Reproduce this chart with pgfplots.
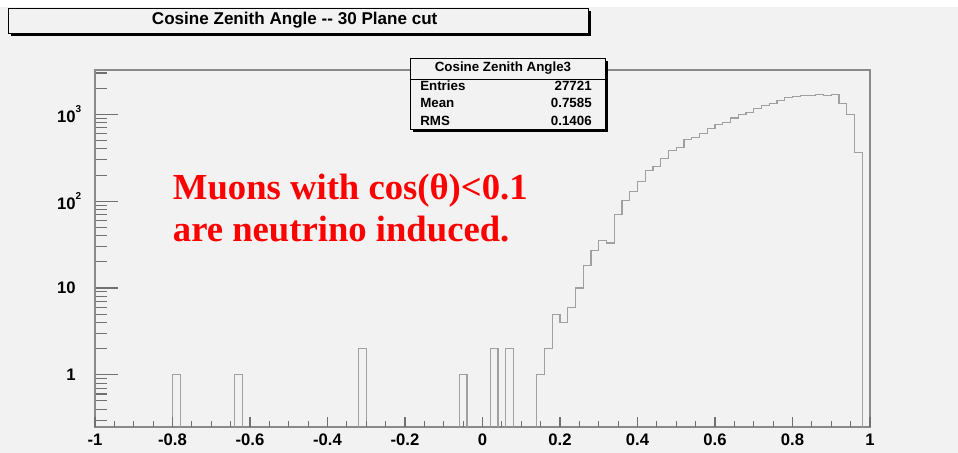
\documentclass[border=0pt]{standalone}
\usepackage{pgfplots}
\pgfplotsset{compat=1.18}
\usepackage{pgfplotstable}
\usepackage{fontspec}
\setmainfont{Liberation Sans}
\newfontfamily\serifrm{Liberation Serif}
\definecolor{bg}{HTML}{F2F2F2}
\definecolor{histc}{HTML}{A0A0A0}
\definecolor{framec}{HTML}{8A8A8A}
\definecolor{tickc}{HTML}{707070}

% left bin edge and count (bins of 0.02); runs of empty bins shown at 0.01 (below the axis)
\pgfplotstableread{
x y
-1.00 0.01
-0.80 1
-0.78 0.01
-0.64 1
-0.62 0.01
-0.32 2
-0.30 0.01
-0.06 1
-0.04 0.01
0.02 2
0.04 0.01
0.06 2
0.08 0.01
0.14 1
0.16 2
0.18 5
0.20 4
0.22 6
0.24 10
0.26 18
0.28 27
0.30 35
0.32 33
0.34 71
0.36 102
0.38 130
0.40 170
0.42 227
0.44 252
0.46 314
0.48 385
0.50 414
0.52 515
0.54 548
0.56 610
0.58 685
0.60 768
0.62 815
0.64 910
0.66 990
0.68 1060
0.70 1170
0.72 1260
0.74 1320
0.76 1450
0.78 1570
0.80 1610
0.82 1640
0.84 1670
0.86 1700
0.88 1670
0.90 1710
0.92 1320
0.94 1010
0.96 365
0.98 0.01
1.00 0.01
}\histdata

\newcommand{\expo}[1]{\rlap{\raisebox{7.5pt}{\fontsize{7.5}{7.5}\selectfont\bfseries #1}}}

\begin{document}
\begin{tikzpicture}
\useasboundingbox (0,0) rectangle (718.5pt,339.75pt);
\fill[bg] (0,0) rectangle (718.5pt,339.75pt);
\fill[white] (0,334.5pt) rectangle (718.5pt,339.75pt);

\begin{axis}[
  at={(71.25pt,19.5pt)}, anchor=south west,
  scale only axis, width=581.25pt, height=267.75pt,
  xmin=-1, xmax=1, ymode=log, ymin=0.25, ymax=3250,
  axis line style={draw=framec, line width=1.5pt},
  xtick=\empty,
  ytick={1,10,100,1000},
  yticklabels={{\bfseries 1},{\bfseries 10},{\bfseries 10\expo{2}},{\bfseries 10\expo{3}}},
  minor ytick={0.3,0.4,0.5,0.6,0.7,0.8,0.9,2,3,4,5,6,7,8,9,20,30,40,50,60,70,80,90,200,300,400,500,600,700,800,900,2000,3000},
  ytick pos=left, tick align=inside,
  major tick length=17.25pt, minor tick length=9pt,
  every tick/.style={tickc, line width=0.8pt},
  yticklabel style={anchor=east, inner sep=0pt, xshift=-14.25pt, font=\fontsize{12.5}{12.5}\selectfont\bfseries},
]
\addplot[const plot mark left, histc, line width=0.8pt] table[x=x,y=y] {\histdata};
\end{axis}

\begin{axis}[
  at={(71.25pt,19.5pt)}, anchor=south west,
  scale only axis, width=581.25pt, height=267.75pt,
  xmin=-1, xmax=1, ymin=0, ymax=1,
  axis line style={draw=none},
  ytick=\empty,
  xtick={-1,-0.8,-0.6,-0.4,-0.2,0,0.2,0.4,0.6,0.8,1},
  xticklabels={-1,-0.8,-0.6,-0.4,-0.2,0,0.2,0.4,0.6,0.8,1},
  minor x tick num=3,
  xtick pos=left, tick align=inside,
  major tick length=7.5pt, minor tick length=4.5pt,
  every tick/.style={tickc, line width=0.8pt},
  xticklabel style={anchor=north, inner sep=0pt, yshift=-4.75pt, font=\fontsize{12.5}{12.5}\selectfont\bfseries},
]
\end{axis}

% title box
\fill[black] (8.25pt,312.75pt) rectangle (443.25pt,331.5pt);
\filldraw[fill=bg, draw=black, line width=0.6pt] (6pt,315pt) rectangle (441pt,333.75pt);
\node[font=\fontsize{12.8}{12.8}\selectfont\bfseries, inner sep=0pt] at (221pt,324.4pt) {Cosine Zenith Angle -{}- 30 Plane cut};

% stats box
\fill[black] (309.75pt,240.75pt) rectangle (456pt,294pt);
\filldraw[fill=bg, draw=black, line width=0.6pt] (307.5pt,243pt) rectangle (453.75pt,296.25pt);
\draw[black, line width=0.6pt] (307.5pt,280.5pt) -- (453.75pt,280.5pt);
\begin{scope}[every node/.style={font=\fontsize{10}{10}\selectfont\bfseries, inner sep=0pt}]
\node at (377.25pt,288.4pt) {Cosine Zenith Angle3};
\node[anchor=west] at (315pt,275.6pt) {Entries};
\node[anchor=east] at (444pt,275.6pt) {27721};
\node[anchor=west] at (315pt,262.5pt) {Mean};
\node[anchor=east] at (444pt,262.5pt) {0.7585};
\node[anchor=west] at (315pt,249pt) {RMS};
\node[anchor=east] at (444pt,249pt) {0.1406};
\end{scope}

% annotation
\node[anchor=base west, inner sep=0pt, text=red, font=\serifrm\bfseries\fontsize{27.5}{31.8}\selectfont] at (129.5pt,190.3pt) {Muons with cos(θ)<0.1};
\node[anchor=base west, inner sep=0pt, text=red, font=\serifrm\bfseries\fontsize{27.5}{31.8}\selectfont] at (129.5pt,158.5pt) {are neutrino induced.};
\end{tikzpicture}
\end{document}
